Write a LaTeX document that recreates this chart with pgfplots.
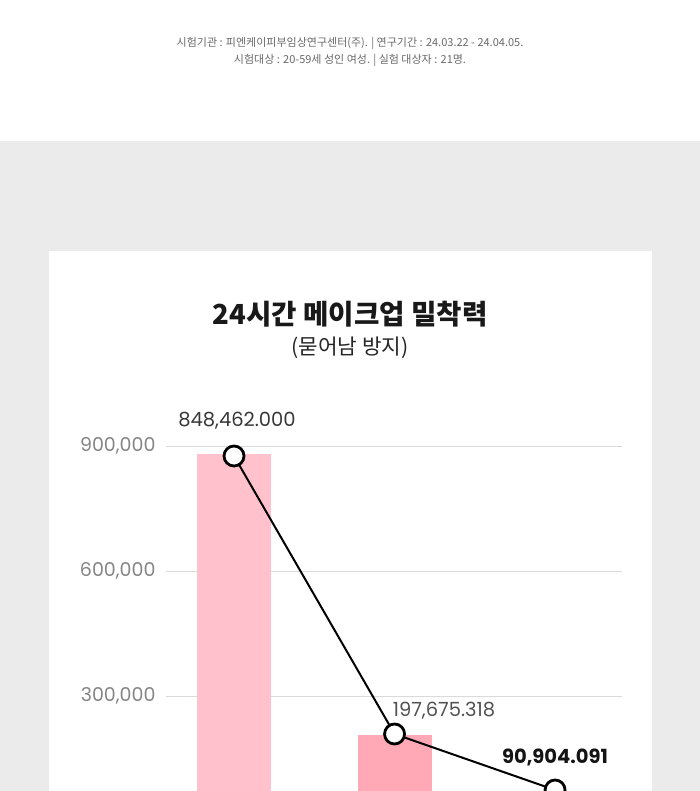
\documentclass[border=0pt]{standalone}
\usepackage{pgfplots}
\pgfplotsset{compat=1.18}
\usepackage{fontspec}
\setmainfont{Poppins}
\newfontfamily\kr{Noto Sans CJK KR}
\definecolor{bgray}{HTML}{EBEBEB}
\definecolor{hdr}{HTML}{6A6A6A}
\definecolor{gridc}{HTML}{DADADA}
\definecolor{tickc}{HTML}{858585}
\definecolor{pinkA}{HTML}{FFC1CB}
\definecolor{pinkB}{HTML}{FFA9B6}
\definecolor{pinkC}{HTML}{FF8FA3}
\begin{document}
\begin{tikzpicture}[x=1pt,y=1pt]
\useasboundingbox (0,0) rectangle (700,791);
\clip (0,0) rectangle (700,791);
\fill[white] (0,0) rectangle (700,791);
\fill[bgray] (0,0) rectangle (700,650);
\fill[white] (49,0) rectangle (652,540);
\node[font=\kr\fontsize{11}{13}\selectfont, text=hdr] at (350,748) {시험기관 : 피엔케이피부임상연구센터(주). | 연구기간 : 24.03.22 - 24.04.05.};
\node[font=\kr\fontsize{11}{13}\selectfont, text=hdr] at (350,731) {시험대상 : 20-59세 성인 여성. | 실험 대상자 : 21명.};
\node[font=\kr\bfseries\fontsize{27.6}{32}\selectfont, text=black!90] at (350,477) {24시간 메이크업 밀착력};
\node[font=\kr\fontsize{21.3}{25}\selectfont, text=black!85] at (350,443) {(묻어남 방지)};
\begin{axis}[
  at={(166pt,-30pt)}, anchor=south west, scale only axis,
  width=456pt, height=375pt,
  xmin=-0.4237, xmax=2.417, ymin=0, ymax=900000,
  scaled y ticks=false,
  axis line style={draw=none}, major tick length=0pt,
  xtick=\empty,
  ytick={300000,600000,900000},
  yticklabels={{300,000},{600,000},{900,000}},
  ymajorgrids, grid style={color=gridc, line width=1pt},
  yticklabel style={text=tickc, font=\fontsize{19}{21}\selectfont, xshift=-7pt},
  clip=false,
]
\addplot[ybar, bar width=74pt, bar shift=0pt, fill=pinkA, draw=none] coordinates {(0,880800)};
\addplot[ybar, bar width=74pt, bar shift=0pt, fill=pinkB, draw=none] coordinates {(1,206400)};
\addplot[ybar, bar width=74pt, bar shift=0pt, fill=pinkC, draw=none] coordinates {(2,55000)};
\addplot[black, line width=2pt, mark=*, mark size=10pt, mark options={fill=white, draw=black, line width=2.8pt}] coordinates {(0,876000) (1,208800) (2,74400)};
\end{axis}
\node[font=\fontsize{19.5}{22}\selectfont, text=black!78] at (237,370) {848,462.000};
\node[font=\fontsize{19.5}{22}\selectfont, text=black!68] at (444,80) {197,675.318};
\node[font=\bfseries\fontsize{19.5}{22}\selectfont, text=black!92] at (555,34) {90,904.091};
\end{tikzpicture}
\end{document}
